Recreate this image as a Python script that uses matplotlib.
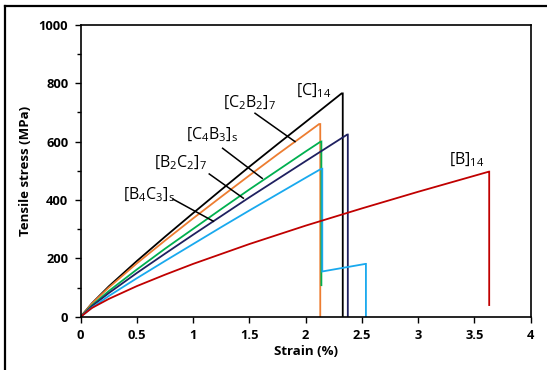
import matplotlib
matplotlib.use("Agg")
import matplotlib.pyplot as plt
from matplotlib.lines import Line2D
from matplotlib.ticker import MultipleLocator

plt.rcParams["font.family"] = ["Open Sans", "DejaVu Sans"]
plt.rcParams["mathtext.default"] = "regular"

# stress-strain curves (strain %, stress MPa)
c14_strain = [0, 0.1, 0.25, 0.5, 0.75, 1.0, 1.25, 1.5, 1.75, 2.0, 2.32, 2.33, 2.33]
c14_stress = [0, 46, 104, 191, 274, 355, 435, 514, 591, 667, 765, 765, 0]

c2b2_strain = [0, 0.1, 0.25, 0.5, 0.75, 1.0, 1.25, 1.5, 1.75, 2.0, 2.12, 2.13, 2.13]
c2b2_stress = [0, 45, 100, 183, 261, 337, 411, 484, 556, 626, 660, 660, 0]

c4b3_strain = [0, 0.1, 0.25, 0.5, 0.75, 1.0, 1.25, 1.5, 1.75, 2.0, 2.13, 2.14, 2.14]
c4b3_stress = [0, 39, 88, 162, 233, 301, 369, 436, 501, 566, 599, 600, 108]

b2c2_strain = [0, 0.1, 0.25, 0.5, 0.75, 1.0, 1.25, 1.5, 1.75, 2.0, 2.37, 2.375, 2.375]
b2c2_stress = [0, 36, 81, 150, 216, 281, 345, 409, 471, 533, 624, 624, 0]

b4c3_strain = [0, 0.1, 0.25, 0.5, 0.75, 1.0, 1.25, 1.5, 1.75, 2.0, 2.14, 2.148, 2.148, 2.533, 2.536, 2.536]
b4c3_stress = [0, 31, 71, 132, 191, 249, 307, 364, 420, 476, 507, 507, 155, 181, 181, 0]

b14_strain = [0, 0.1, 0.25, 0.5, 0.75, 1.0, 1.5, 2.0, 2.5, 3.0, 3.63, 3.632, 3.632]
b14_stress = [0, 30, 61, 105, 144, 181, 249, 312, 371, 428, 497, 497, 40]

series = [
    (c14_strain, c14_stress, "#000000"),
    (c2b2_strain, c2b2_stress, "#ED7D31"),
    (c4b3_strain, c4b3_stress, "#00B050"),
    (b2c2_strain, b2c2_stress, "#1F2060"),
    (b4c3_strain, b4c3_stress, "#19A9EE"),
    (b14_strain, b14_stress, "#C00000"),
]

# label text, label position, pointer start, pointer end
labels = [
    ("[C]$_{14}$", (2.07, 775), None, None),
    ("[C$_2$B$_2$]$_7$", (1.50, 734), (1.55, 697), (1.905, 600)),
    ("[C$_4$B$_3$]$_s$", (1.17, 623), (1.262, 577), (1.614, 474)),
    ("[B$_2$C$_2$]$_7$", (0.89, 527), (1.143, 489), (1.446, 406)),
    ("[B$_4$C$_3$]$_s$", (0.61, 417), (0.82, 403), (1.18, 327)),
    ("[B]$_{14}$", (3.43, 537), None, None),
]

fig = plt.figure(figsize=(5.47, 3.70), dpi=100)
ax = fig.add_axes([0.1475, 0.144, 0.8225, 0.789])

for x, y, col in series:
    ax.plot(x, y, color=col, lw=1.3, solid_joinstyle="miter")

for txt, pos, p0, p1 in labels:
    ax.text(pos[0], pos[1], txt, ha="center", va="center", fontsize=11.5)
    if p0 is not None:
        ax.plot([p0[0], p1[0]], [p0[1], p1[1]], color="black", lw=1.1)

ax.set_xlim(0, 4)
ax.set_ylim(0, 1000)
ax.yaxis.set_major_locator(MultipleLocator(200))
ax.yaxis.set_minor_locator(MultipleLocator(100))
ax.set_xticks([0, 0.5, 1, 1.5, 2, 2.5, 3, 3.5, 4])
ax.set_xticklabels(["0", "0.5", "1", "1.5", "2", "2.5", "3", "3.5", "4"])
ax.tick_params(direction="out", length=4, width=1, labelsize=9.3, pad=5)
ax.tick_params(which="minor", direction="out", length=3, width=1)
for lab in ax.get_xticklabels() + ax.get_yticklabels():
    lab.set_fontweight("bold")
for sp in ax.spines.values():
    sp.set_linewidth(1.2)

ax.set_xlabel("Strain (%)", fontsize=9.5, fontweight="bold", labelpad=2)
ax.set_ylabel("Tensile stress (MPa)", fontsize=9.5, fontweight="bold", labelpad=5)

# partial frame around the picture (top and left edges)
fig.add_artist(Line2D([0.009, 1.0], [0.983, 0.983], color="black", lw=1.6,
                      transform=fig.transFigure))
fig.add_artist(Line2D([0.009, 0.009], [0.0, 0.983], color="black", lw=1.6,
                      transform=fig.transFigure))

fig.savefig("out.png", dpi=100)
